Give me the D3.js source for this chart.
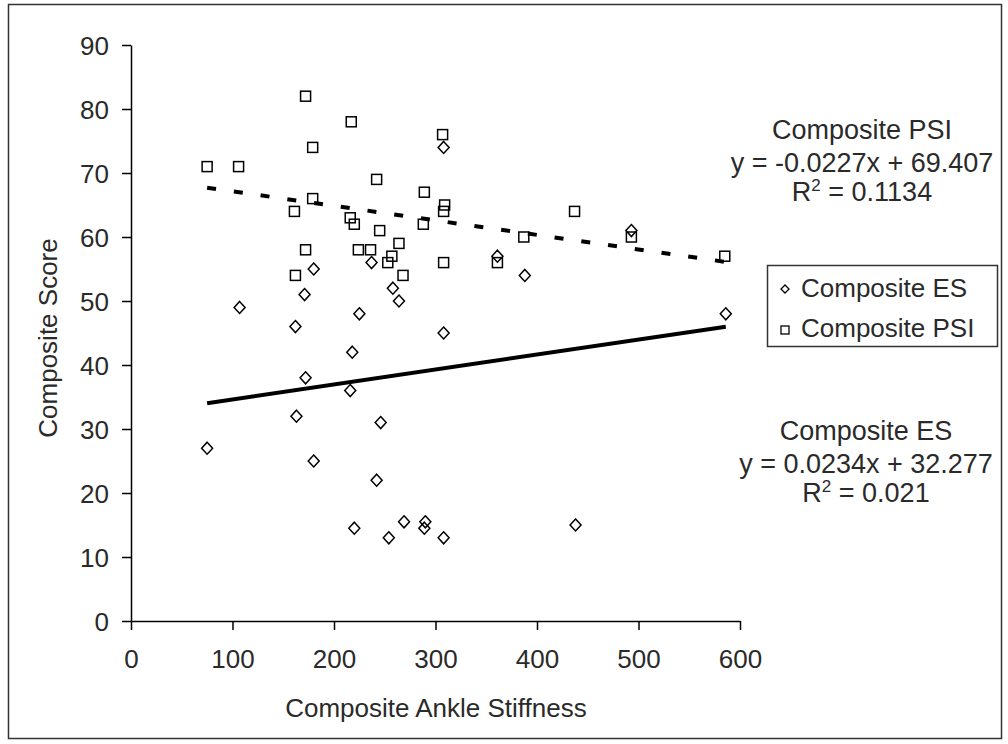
<!DOCTYPE html>
<html>
<head>
<meta charset="utf-8" />
<title>Composite Score vs Composite Ankle Stiffness</title>
<style>
html, body {
	margin: 0px;
	padding: 0px;
	background: #fff;
}
svg text {
	font-family: "Liberation Sans", Arial, sans-serif;
	fill: #2a2a2a;
}
</style>
</head>
<body>
<svg id="chart" width="1008" height="744"></svg>

<script src="https://cdn.jsdelivr.net/npm/d3@7"></script>
<script>

// data
var esX  = [75, 107, 171, 162, 172, 163, 180, 180, 237, 258, 264, 225, 218, 216, 246, 242, 220, 254, 269, 290, 289, 308, 308, 308, 388, 361, 493, 586, 438];
var esY  = [27, 49, 51, 46, 38, 32, 55, 25, 56, 52, 50, 48, 42, 36, 31, 22, 14.5, 13, 15.5, 15.5, 14.5, 13, 74, 45, 54, 57, 61, 48, 15];

var psiX = [75, 106, 172, 217, 179, 242, 307, 289, 179, 161, 309, 308, 216, 220, 245, 288, 172, 224, 236, 264, 257, 253, 308, 162, 268, 437, 387, 493, 585, 361];
var psiY = [71, 71, 82, 78, 74, 69, 76, 67, 66, 64, 65, 64, 63, 62, 61, 62, 58, 58, 58, 59, 57, 56, 56, 54, 54, 64, 60, 60, 57, 56];

var xTicks = [0, 100, 200, 300, 400, 500, 600];
var yTicks = [0, 10, 20, 30, 40, 50, 60, 70, 80, 90];

// trendlines (from the equations shown on the chart)
var esFit  = {slope: 0.0234, intercept: 32.277, r2: "0.021", name: "Composite ES"};
var psiFit = {slope: -0.0227, intercept: 69.407, r2: "0.1134", name: "Composite PSI"};

var svg = d3.select("#chart");

// outer frame
svg.append("rect")
	.attr("x", 8.5).attr("y", 4.5)
	.attr("width", 993).attr("height", 734)
	.attr("fill", "none")
	.attr("stroke", "#333")
	.attr("stroke-width", 1.5);

var x = d3.scaleLinear().domain([0, 600]).range([131, 740]);
var y = d3.scaleLinear().domain([0, 90]).range([621, 45]);

// axes
var xAxis = svg.append("g")
	.attr("transform", "translate(0,621)")
	.call(d3.axisBottom(x).tickValues(xTicks).tickSize(9).tickPadding(20).tickSizeOuter(0));
var yAxis = svg.append("g")
	.attr("transform", "translate(131,0)")
	.call(d3.axisLeft(y).tickValues(yTicks).tickSize(9).tickPadding(13).tickSizeOuter(0));

[xAxis, yAxis].forEach(function(a){
	a.selectAll("path, line").attr("stroke", "#000").attr("stroke-width", 1.5);
	a.selectAll("text").style("font-size", "26px").attr("fill", "#2a2a2a");
});
yAxis.selectAll("text").attr("dy", "0.36em");

// axis titles
svg.append("text")
	.attr("x", 436).attr("y", 717)
	.attr("text-anchor", "middle")
	.style("font-size", "26px")
	.text("Composite Ankle Stiffness");

svg.append("text")
	.attr("transform", "translate(57,338) rotate(-90)")
	.attr("text-anchor", "middle")
	.style("font-size", "26px")
	.text("Composite Score");

// trendlines
function fitLine(xs, fit){
	var x0 = d3.min(xs), x1 = d3.max(xs);
	return [[x0, fit.intercept + fit.slope * x0], [x1, fit.intercept + fit.slope * x1]];
}
var line = d3.line().x(function(d){ return x(d[0]); }).y(function(d){ return y(d[1]); });

svg.append("path")
	.attr("d", line(fitLine(esX, esFit)))
	.attr("stroke", "#000").attr("stroke-width", 4)
	.attr("fill", "none");

svg.append("path")
	.attr("d", line(fitLine(psiX, psiFit)))
	.attr("stroke", "#000").attr("stroke-width", 4)
	.attr("stroke-dasharray", "9,18")
	.attr("fill", "none");

// markers
var diamond = "M0,-6L5.5,0L0,6L-5.5,0Z";

svg.append("g").selectAll("path")
	.data(d3.zip(esX, esY))
	.enter()
	.append("path")
		.attr("d", diamond)
		.attr("transform", function(d){ return "translate(" + x(d[0]) + "," + y(d[1]) + ")"; })
		.attr("fill", "none")
		.attr("stroke", "#000")
		.attr("stroke-width", 1.5);

svg.append("g").selectAll("rect")
	.data(d3.zip(psiX, psiY))
	.enter()
	.append("rect")
		.attr("x", function(d){ return x(d[0]) - 5; })
		.attr("y", function(d){ return y(d[1]) - 5; })
		.attr("width", 10).attr("height", 10)
		.attr("fill", "none")
		.attr("stroke", "#000")
		.attr("stroke-width", 1.5);

// trendline labels
function fitLabel(fit, cx, top){
	var g = svg.append("g").attr("text-anchor", "middle").style("font-size", "27px");
	g.append("text").attr("x", cx).attr("y", top).text(fit.name);
	var eq = "y = " + (fit.slope < 0 ? "-" : "") + Math.abs(fit.slope) + "x + " + fit.intercept;
	g.append("text").attr("x", cx).attr("y", top + 33).text(eq);
	var r = g.append("text").attr("x", cx).attr("y", top + 62);
	r.append("tspan").text("R");
	r.append("tspan").attr("dy", -10).style("font-size", "17px").text("2");
	r.append("tspan").attr("dy", 10).text(" = " + fit.r2);
}
fitLabel(psiFit, 862, 139);
fitLabel(esFit, 866, 440);

// legend
var legend = svg.append("g");
legend.append("rect")
	.attr("x", 767.5).attr("y", 265.5)
	.attr("width", 230).attr("height", 81)
	.attr("fill", "#fff")
	.attr("stroke", "#333")
	.attr("stroke-width", 1.5);

legend.append("path")
	.attr("d", "M0,-4L4,0L0,4L-4,0Z")
	.attr("transform", "translate(785,289)")
	.attr("fill", "none").attr("stroke", "#000").attr("stroke-width", 1.3);
legend.append("text").attr("x", 801).attr("y", 297).style("font-size", "26px").text(esFit.name);

legend.append("rect")
	.attr("x", 781).attr("y", 326).attr("width", 8).attr("height", 8)
	.attr("fill", "none").attr("stroke", "#000").attr("stroke-width", 1.3);
legend.append("text").attr("x", 801).attr("y", 337).style("font-size", "26px").text(psiFit.name);

</script>
</body>
</html>
